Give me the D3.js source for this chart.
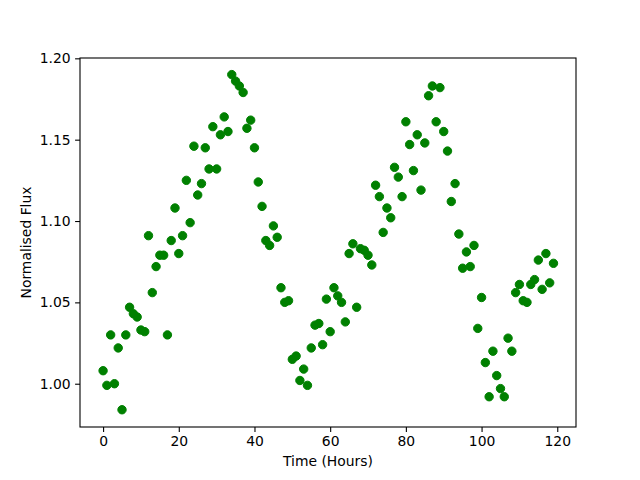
<!DOCTYPE html>
<html>
<head>
<meta charset="utf-8">
<script src="https://cdn.jsdelivr.net/npm/d3@7"></script>
<style>
  body { margin: 0; background: #fff; }
  text { font-family: "DejaVu Sans", sans-serif; }
</style>
</head>
<body>
<div id="my-svg"></div>
<script>
// time in hours, one reading per hour
var hours = d3.range(0, 120);

// normalised flux
var flux = [
    1.008, 0.999, 1.030, 1.000, 1.022, 0.984, 1.030, 1.047, 1.043, 1.041,
    1.033, 1.032, 1.091, 1.056, 1.072, 1.079, 1.079, 1.030, 1.088, 1.108,
    1.080, 1.091, 1.125, 1.099, 1.146, 1.116, 1.123, 1.145, 1.132, 1.158,
    1.132, 1.153, 1.164, 1.155, 1.190, 1.186, 1.183, 1.179, 1.157, 1.162,
    1.145, 1.124, 1.109, 1.088, 1.085, 1.097, 1.090, 1.059, 1.050, 1.051,
    1.015, 1.017, 1.002, 1.009, 0.999, 1.022, 1.036, 1.037, 1.024, 1.052,
    1.032, 1.059, 1.054, 1.050, 1.038, 1.080, 1.086, 1.047, 1.083, 1.082,
    1.079, 1.073, 1.122, 1.115, 1.093, 1.108, 1.102, 1.133, 1.127, 1.115,
    1.161, 1.147, 1.131, 1.153, 1.119, 1.148, 1.177, 1.183, 1.161, 1.182,
    1.155, 1.143, 1.112, 1.123, 1.092, 1.071, 1.081, 1.072, 1.085, 1.034,
    1.053, 1.013, 0.992, 1.020, 1.005, 0.997, 0.992, 1.028, 1.020, 1.056,
    1.061, 1.051, 1.050, 1.061, 1.064, 1.076, 1.058, 1.080, 1.062, 1.074
];

var xTicks = [0, 20, 40, 60, 80, 100, 120];
var yTicks = [1.00, 1.05, 1.10, 1.15, 1.20];

var svg, xScale, yScale;
var margin = { top: 58, right: 64, bottom: 53, left: 80 },
    width = 640 - margin.left - margin.right,
    height = 480 - margin.top - margin.bottom;

function createBaseGraph() {
    svg = d3.select("#my-svg")
        .append("svg")
        .attr("width", width + margin.left + margin.right)
        .attr("height", height + margin.top + margin.bottom)
        .append("g")
        .attr("transform", "translate(" + margin.left + "," + margin.top + ")");
}

function initAxis() {
    // x axis: data padded by 5% on each side, like matplotlib
    xScale = d3.scaleLinear()
        .domain([-6.1, 124.95])
        .range([0, width]);
    yScale = d3.scaleLinear()
        .domain([0.9734, 1.2002])
        .range([height, 0]);

    var xAxis = svg.append("g")
        .attr("transform", "translate(0," + height + ")")
        .call(d3.axisBottom(xScale).tickValues(xTicks).tickSize(4.9).tickPadding(4.5).tickFormat(d3.format("d")));
    var yAxis = svg.append("g")
        .call(d3.axisLeft(yScale).tickValues(yTicks).tickSize(4.9).tickPadding(4.5).tickFormat(d3.format(".2f")));

    [xAxis, yAxis].forEach(function (a) {
        a.select(".domain").remove();
        a.selectAll("line").attr("stroke", "#000").attr("stroke-width", 1.1);
        a.selectAll("text")
            .attr("fill", "#000")
            .style("font-family", "'DejaVu Sans', sans-serif")
            .style("font-size", "13.9px");
    });

    // axis labels
    svg.append("text")
        .attr("x", width / 2)
        .attr("y", height + 39)
        .attr("text-anchor", "middle")
        .style("font-size", "13.9px")
        .text("Time (Hours)");

    svg.append("text")
        .attr("transform", "translate(-49," + height / 2 + ") rotate(-90)")
        .attr("text-anchor", "middle")
        .style("font-size", "13.9px")
        .text("Normalised Flux");
}

function drawPoints() {
    svg.append("g")
        .selectAll("circle")
        .data(hours)
        .enter()
        .append("circle")
        .attr("cx", function (d) { return xScale(d); })
        .attr("cy", function (d, i) { return yScale(flux[i]); })
        .attr("r", 4.2)
        .attr("fill", "#008000")
        .attr("stroke", "#008000")
        .attr("stroke-width", 1);
}

function drawFrame() {
    // box around the plot area
    svg.append("rect")
        .attr("width", width)
        .attr("height", height)
        .attr("fill", "none")
        .attr("stroke", "#000")
        .attr("stroke-width", 1.1);
}

createBaseGraph();
initAxis();
drawPoints();
drawFrame();
</script>
</body>
</html>
